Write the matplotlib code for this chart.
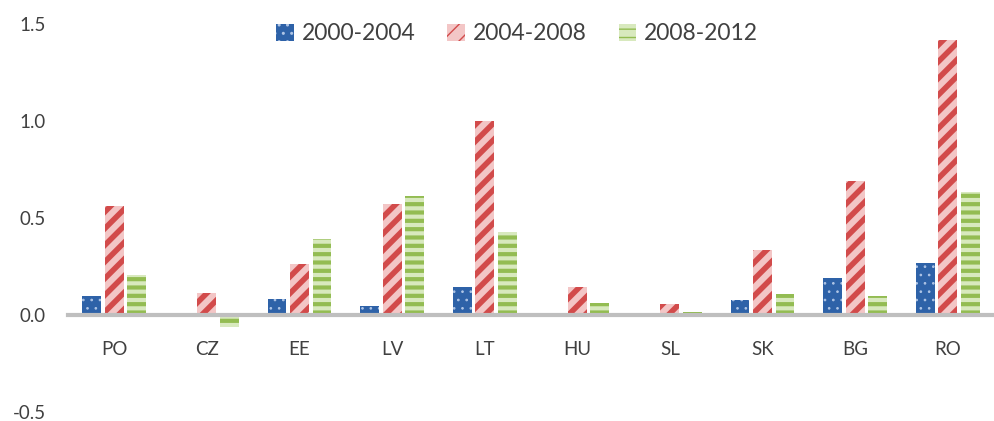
import matplotlib as mpl
import matplotlib.pyplot as plt
import numpy as np

countries = ['PO', 'CZ', 'EE', 'LV', 'LT', 'HU', 'SL', 'SK', 'BG', 'RO']
periods = ['2000-2004', '2004-2008', '2008-2012']
v_2000_2004 = [0.10, 0.01, 0.08, 0.045, 0.145, 0.0, 0.0, 0.075, 0.19, 0.27]
v_2004_2008 = [0.56, 0.113, 0.263, 0.57, 1.0, 0.145, 0.055, 0.335, 0.69, 1.417]
v_2008_2012 = [0.205, -0.062, 0.39, 0.615, 0.43, 0.06, 0.015, 0.11, 0.10, 0.635]

plt.rcParams['font.family'] = ['Lato', 'DejaVu Sans']

fig = plt.figure(figsize=(9.94, 4.21), dpi=100)
ax = fig.add_axes([68/994, 9/421, 926/994, 388/421])

x = np.arange(len(countries))
w = 0.205
step = 0.243

# (face, hatch colour, hatch, hatch linewidth)
styles = [
    ('#2E62A8', '#AFC5E6', '..', 0.7),
    ('#F3C6C6', '#D24B4B', '//', 4.0),
    ('#D8E9BE', '#93BC52', '--', 3.0),
]
series = [v_2000_2004, v_2004_2008, v_2008_2012]

for i, (vals, (fc, hc, h, hlw)) in enumerate(zip(series, styles)):
    with mpl.rc_context({'hatch.linewidth': hlw, 'hatch.color': hc}):
        bars = ax.bar(x + (i - 1) * step, vals, w, color=fc, edgecolor=hc,
                      linewidth=0, hatch=h, label=periods[i], zorder=2)
        for b in bars:
            if hasattr(b, 'set_hatch_linewidth'):
                b.set_hatch_linewidth(hlw)

ax.set_ylim(-0.5, 1.5)
ax.set_xlim(-0.5, len(countries) - 0.5)
ax.set_yticks([-0.5, 0.0, 0.5, 1.0, 1.5])
ax.set_yticklabels(['-0.5', '0.0', '0.5', '1.0', '1.5'])
ax.set_xticks(x)
ax.set_xticklabels(countries)

for s in ['top', 'right', 'left']:
    ax.spines[s].set_visible(False)
ax.spines['bottom'].set_position(('data', 0))
ax.spines['bottom'].set_color('#BFBFBF')
ax.spines['bottom'].set_linewidth(3)
ax.spines['bottom'].set_zorder(3)
ax.tick_params(axis='x', length=0, pad=19, labelsize=13.5, labelcolor='#404040')
ax.tick_params(axis='y', length=0, pad=16, labelsize=13.5, labelcolor='#404040')

leg = ax.legend(loc='upper center', bbox_to_anchor=(0.485, 1.055), ncol=3,
                frameon=False, fontsize=16.5, handlelength=0.75, handleheight=0.75,
                columnspacing=1.4, handletextpad=0.35)
for t in leg.get_texts():
    t.set_color('#404040')

fig.savefig('out.png', dpi=100)
